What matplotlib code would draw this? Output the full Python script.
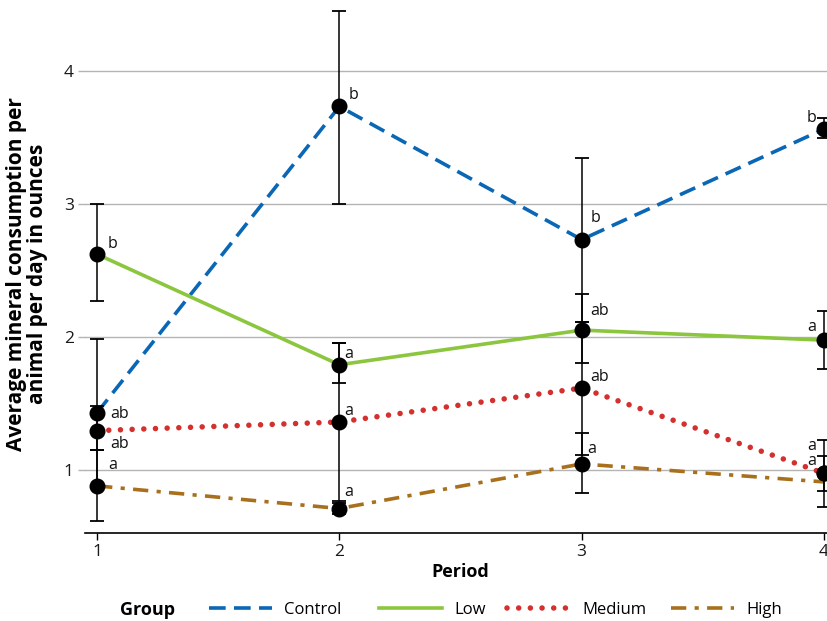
import matplotlib
matplotlib.use("Agg")
import matplotlib.pyplot as plt
from matplotlib.lines import Line2D

plt.rcParams['font.family'] = ['Open Sans', 'DejaVu Sans']
plt.rcParams['lines.scale_dashes'] = False

periods = [1, 2, 3, 4]
period_labels = ["1", "2", "3", "4"]
groups = ["Control", "Low", "Medium", "High"]

control_mean = [1.43, 3.73, 2.73, 3.56]
control_lo = [0.88, 3.00, 2.11, 3.49]
control_hi = [1.98, 4.45, 3.34, 3.645]
control_letters = ["ab", "b", "b", "b"]

low_mean = [2.62, 1.79, 2.05, 1.975]
low_lo = [2.27, 1.65, 1.80, 1.76]
low_hi = [3.00, 1.95, 2.32, 2.19]
low_letters = ["b", "a", "ab", "a"]

medium_mean = [1.295, 1.36, 1.615, 0.975]
medium_lo = [1.15, 0.77, 1.115, 0.84]
medium_hi = [1.48, 1.95, 2.11, 1.105]
medium_letters = ["ab", "a", "ab", "a"]

high_mean = [0.88, 0.71, 1.045, 0.975]
high_lo = [0.615, 0.665, 0.83, 0.72]
high_hi = [1.15, 0.755, 1.275, 1.225]
high_line = [0.88, 0.71, 1.045, 0.91]
high_letters = ["a", "a", "a", "a"]

y_ticks = [1, 2, 3, 4]

W, H = 828, 621
fig = plt.figure(figsize=(W / 100, H / 100), dpi=100)
ax_left, ax_right = 85, 836
ax_bottom, ax_top = 533, 0
ax = fig.add_axes([ax_left / W, (H - ax_bottom) / H, (ax_right - ax_left) / W, (ax_bottom - ax_top) / H])
ax.set_xlim(0.95, 4.05)
ax.set_ylim(0.526, 4.53)

styles = {
    "Control": dict(color="#0a67b5", lw=2.6, dashes=(12, 6), dash_capstyle='butt'),
    "Low": dict(color="#8cc63f", lw=2.6, linestyle='-'),
    "Medium": dict(color="#d3302e", lw=4.0, dashes=(0.01, 8.4), dash_capstyle='round'),
    "High": dict(color="#a8701c", lw=2.6, dashes=(11, 6, 3, 6), dash_capstyle='butt'),
}

series = [
    ("Control", control_mean, control_lo, control_hi, control_mean, control_letters),
    ("Low", low_mean, low_lo, low_hi, low_mean, low_letters),
    ("Medium", medium_mean, medium_lo, medium_hi, medium_mean, medium_letters),
    ("High", high_mean, high_lo, high_hi, high_line, high_letters),
]

# label offsets in pixels (dx, dy up), per group per period
offsets = {
    "Control": [(13, -1), (9, 11), (9, 22), (-8, 11)],
    "Low": [(11, 10), (5, 11), (9, 19), (-8, 13)],
    "Medium": [(13, -13), (5, 11), (9, 11), (-8, 12)],
    "High": [(11, 21), (5, 17), (6, 15), (-8, 27)],
}

for name, mean, lo, hi, line, letters in series:
    ax.plot(periods, line, zorder=2, clip_on=False, **styles[name])
    yerr = [[m - l for m, l in zip(mean, lo)], [h - m for m, h in zip(mean, hi)]]
    ax.errorbar(periods, mean, yerr=yerr, fmt='none', ecolor='black', elinewidth=1.1,
                capsize=5, capthick=1.3, zorder=3, clip_on=False)
    ax.plot(periods, mean, 'o', color='black', markersize=10.5, zorder=4, clip_on=False)
    for i, (p, m, t) in enumerate(zip(periods, mean, letters)):
        dx, dy = offsets[name][i]
        ha = 'left' if dx > 0 else 'right'
        ax.annotate(t, (p, m), xytext=(dx, dy), textcoords='offset pixels',
                    ha=ha, va='center', fontsize=11.5, color='#111111', zorder=5)

ax.set_yticks(y_ticks)
ax.set_yticklabels([str(v) for v in y_ticks])
ax.set_xticks(periods)
ax.set_xticklabels(period_labels)
ax.grid(axis='y', color='#b4b4b4', lw=1.0)
ax.set_axisbelow(True)
for s in ['top', 'right', 'left']:
    ax.spines[s].set_visible(False)
ax.spines['bottom'].set_color('black')
ax.spines['bottom'].set_linewidth(1.2)
ax.tick_params(axis='y', length=5, color='#b4b4b4', width=1.0, pad=3, labelsize=12.5, labelcolor='#1a1a1a')
ax.tick_params(axis='x', length=5, color='black', width=1.0, pad=3, labelsize=12.5, labelcolor='#1a1a1a')

ax.set_xlabel("Period", fontsize=13, fontweight='bold', labelpad=2)
fig.text(27 / W, 1 - 274 / H, "Average mineral consumption per\nanimal per day in ounces",
         rotation=90, ha='center', va='center', fontsize=15, fontweight='bold',
         linespacing=1.02)

# legend: one entry per key, placed at the reference's key positions
legend_y = 1 - 610 / H
fig.text(148 / W, legend_y, "Group", ha='center', va='center', fontsize=13, fontweight='bold')
key_x = [209, 379, 507, 671]
for g, kx in zip(groups, key_x):
    h = Line2D([0], [0], **styles[g])
    leg = fig.legend([h], [g], loc='center left', bbox_to_anchor=(kx / W, legend_y),
                     frameon=False, fontsize=12, handlelength=3.8, handletextpad=0.7,
                     borderpad=0, borderaxespad=0)

fig.savefig("out.png", dpi=100)
